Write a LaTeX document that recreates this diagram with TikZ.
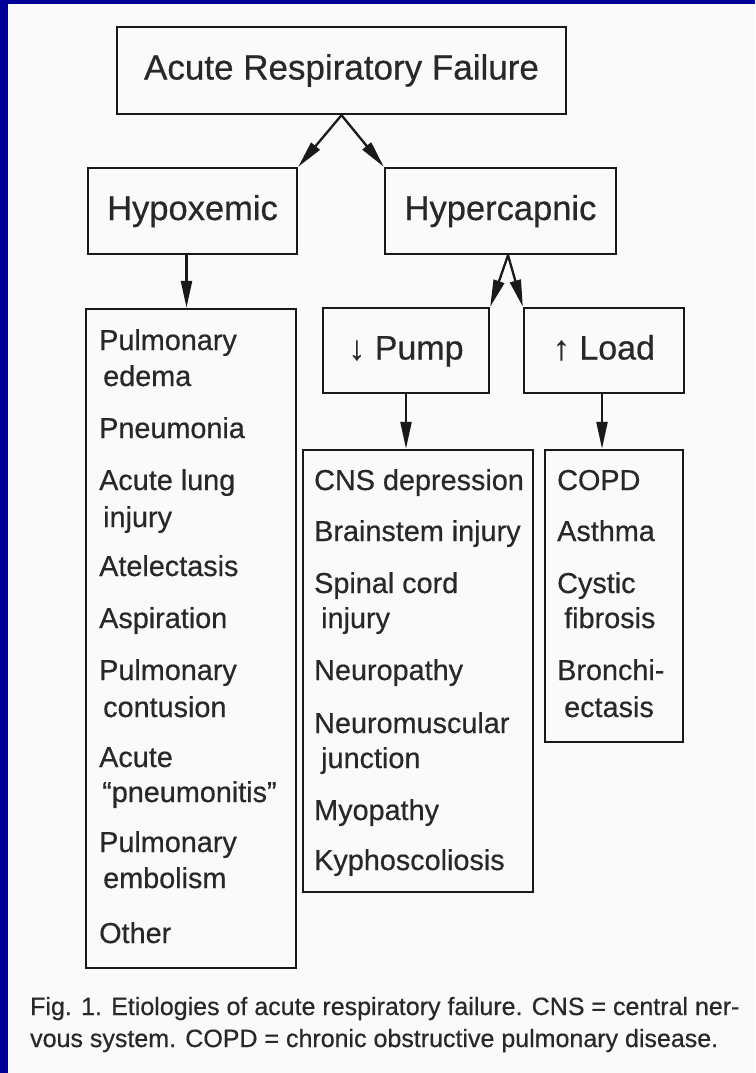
\documentclass[tikz,border=0pt]{standalone}
\usepackage{fontspec}
\setmainfont{Liberation Sans}[FakeBold=0.5]
\usetikzlibrary{arrows.meta}
\definecolor{bluebg}{RGB}{0,0,153}
\definecolor{paper}{RGB}{250,250,250}
\definecolor{inkc}{RGB}{40,40,40}
\definecolor{linec}{RGB}{25,25,25}
\begin{document}
\begin{tikzpicture}[x=1pt,y=-1pt,
  boxc/.style={draw=linec, line width=2.4pt, inner sep=0pt, text=inkc, text height=25pt, text depth=7pt},
  hdA/.style={font=\fontsize{35}{40}\selectfont},
  hdB/.style={font=\fontsize{34.5}{40}\selectfont},
  hdC/.style={font=\fontsize{34}{40}\selectfont},
  listbox/.style={draw=linec, line width=2.4pt, inner sep=0pt},
  item/.style={anchor=base west, inner sep=0pt, text=inkc, font=\fontsize{28.8}{34}\selectfont},
  capt/.style={anchor=base west, inner sep=0pt, text=inkc, font=\fontsize{25}{30}\selectfont},
  arr/.style={draw=linec, line width=2.3pt, -{Triangle[length=27pt,width=11pt]}},
]
\useasboundingbox (0,0) rectangle (755,1073);
\fill[bluebg] (0,0) rectangle (755,1073);
\fill[paper] (8,4) rectangle (755,1073);

% header boxes
\node[boxc, hdA, minimum width=449pt, minimum height=87pt] (arf) at (341.5,70.5) {Acute Respiratory Failure};
\node[boxc, hdB, minimum width=209pt, minimum height=86pt] (hypo) at (192.5,211) {Hypoxemic};
\node[boxc, hdB, minimum width=231pt, minimum height=86pt] (hyper) at (500.5,211) {Hypercapnic};
\node[boxc, hdC, minimum width=166pt, minimum height=85pt] (pump) at (406,350.5) {↓ Pump};
\node[boxc, hdC, minimum width=160pt, minimum height=85pt] (load) at (604,350.5) {↑ Load};

% list boxes
\node[listbox, minimum width=210pt, minimum height=659pt] (hypolist) at (191,638.5) {};
\node[listbox, minimum width=230pt, minimum height=442pt] (cns) at (418,671) {};
\node[listbox, minimum width=138pt, minimum height=292pt] (copd) at (614,596) {};

% hypoxemic items
\node[item] (h1a) at (99,350) {Pulmonary};
\node[item] (h1b) at (103,386) {edema};
\node[item] (h2) at (99,438) {Pneumonia};
\node[item] (h3a) at (99,490) {Acute lung};
\node[item] (h3b) at (103,527) {injury};
\node[item] (h4) at (99,576) {Atelectasis};
\node[item] (h5) at (99,628) {Aspiration};
\node[item] (h6a) at (99,680) {Pulmonary};
\node[item] (h6b) at (103,717) {contusion};
\node[item] (h7a) at (99,767) {Acute};
\node[item] (h7b) at (102,802) {“pneumonitis”};
\node[item] (h8a) at (99,852) {Pulmonary};
\node[item] (h8b) at (103,888) {embolism};
\node[item] (h9) at (99,943) {Other};

% pump items
\node[item] (p1) at (314,490) {CNS depression};
\node[item] (p2) at (314,541) {Brainstem injury};
\node[item] (p3a) at (314,593) {Spinal cord};
\node[item] (p3b) at (321,628) {injury};
\node[item] (p4) at (314,680) {Neuropathy};
\node[item] (p5a) at (314,733) {Neuromuscular};
\node[item] (p5b) at (321,768) {junction};
\node[item] (p6) at (314,820) {Myopathy};
\node[item] (p7) at (314,870) {Kyphoscoliosis};

% load items
\node[item] (l1) at (557,490) {COPD};
\node[item] (l2) at (557,541) {Asthma};
\node[item] (l3a) at (557,593) {Cystic};
\node[item] (l3b) at (564,628) {fibrosis};
\node[item] (l4a) at (557,680) {Bronchi-};
\node[item] (l4b) at (564,717) {ectasis};

% connectors
\draw[arr] (arf.south) -- (hypo.north east);
\draw[arr] (arf.south) -- (hyper.north west);
\draw[arr] ([xshift=-6pt]hypo.south) -- ([xshift=-6pt]hypo.south |- hypolist.north);
\draw[arr] ([xshift=7.5pt]hyper.south) -- (pump.north east);
\draw[arr] ([xshift=7.5pt]hyper.south) -- (load.north west);
\draw[arr] (pump.south) -- (pump.south |- cns.north);
\draw[arr] ([xshift=-2pt]load.south) -- ([xshift=-2pt]load.south |- copd.north);

% caption
\node[capt] (cap1) at (30,1015) {Fig. 1. Etiologies of acute respiratory failure. CNS = central ner-};
\node[capt] (cap2) at (30,1047) {vous system. COPD = chronic obstructive pulmonary disease.};
\end{tikzpicture}
\end{document}
